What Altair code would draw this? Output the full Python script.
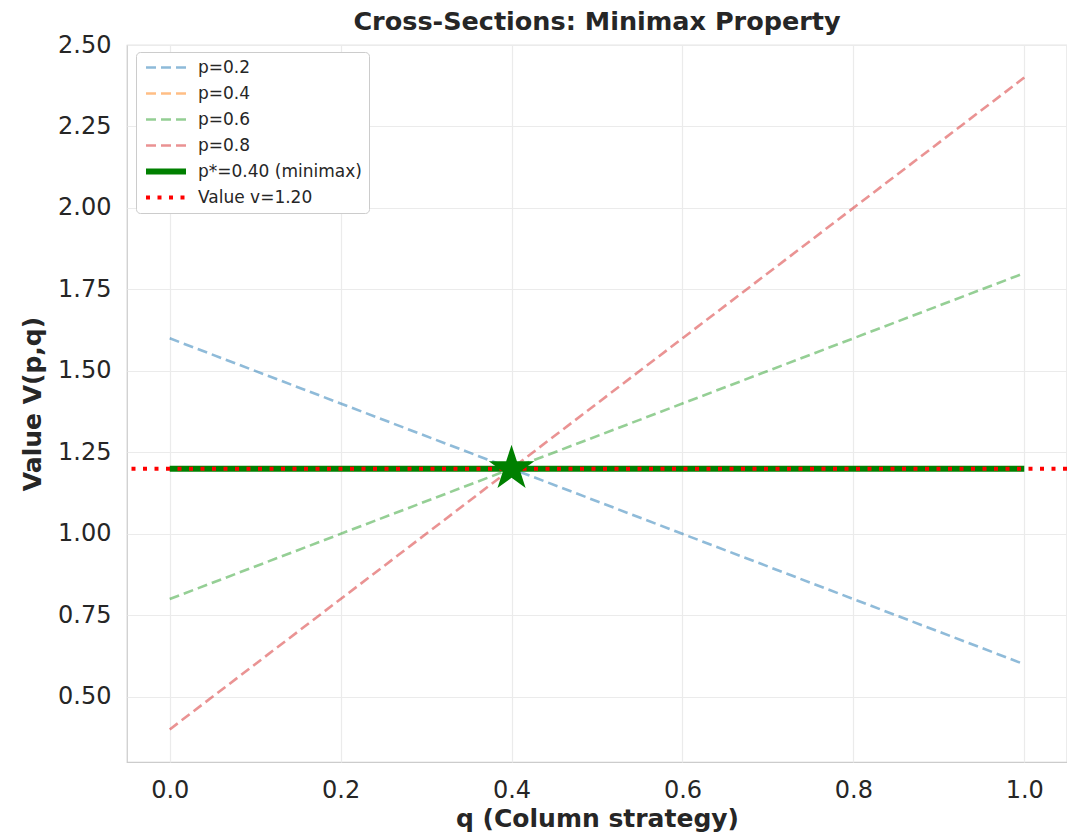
import altair as alt
import pandas as pd

# ---- data ----
q_ends = [0.0, 1.0]
p_labels = ["p=0.2", "p=0.4", "p=0.6", "p=0.8"]
v_at_q0 = [1.6, 1.2, 0.8, 0.4]
v_at_q1 = [0.6, 1.2, 1.8, 2.4]
minimax_label = "p*=0.40 (minimax)"
minimax_value = 1.2
value_label = "Value v=1.20"
game_value = 1.2
star_q = [0.4]
star_v = [1.2]
x_ticks = [0.0, 0.2, 0.4, 0.6, 0.8, 1.0]
y_ticks = [0.5, 0.75, 1.0, 1.25, 1.5, 1.75, 2.0, 2.25, 2.5]

# ---- tables ----
rows = []
for i, lab in enumerate(p_labels):
    rows.append({"series": lab, "q": q_ends[0], "v": v_at_q0[i]})
    rows.append({"series": lab, "q": q_ends[1], "v": v_at_q1[i]})
p_df = pd.DataFrame(rows)
mm_df = pd.DataFrame({"series": [minimax_label] * 2, "q": q_ends, "v": [minimax_value] * 2})
val_df = pd.DataFrame({"series": [value_label], "v": [game_value]})
star_df = pd.DataFrame({"q": star_q, "v": star_v})

series_domain = p_labels + [minimax_label, value_label]
colors = ["#1f77b4", "#ff7f0e", "#2ca02c", "#d62728", "#008000", "#ff0000"]
dashes = [[10, 5], [10, 5], [10, 5], [10, 5], [1, 0], [4, 7.5]]
widths = [2.6, 2.6, 2.6, 2.6, 6, 4]
opac = [0.5, 0.5, 0.5, 0.5, 1, 1]

# five-pointed star in the [-1, 1] box
STAR_PATH = ("M0,-1L-0.2245,-0.309L-0.9511,-0.309L-0.3633,0.118L-0.5878,0.809"
             "L0,0.382L0.5878,0.809L0.3633,0.118L0.9511,-0.309L0.2245,-0.309Z")

x_enc = alt.X("q:Q", scale=alt.Scale(domain=[-0.05, 1.05], nice=False, zero=False),
              axis=alt.Axis(values=x_ticks, format=".1f", title="q (Column strategy)"))
y_enc = alt.Y("v:Q", scale=alt.Scale(domain=[0.3, 2.5], nice=False, zero=False),
              axis=alt.Axis(values=y_ticks, format=".2f", title="Value V(p,q)"))


def style_enc():
    return dict(
        color=alt.Color("series:N", scale=alt.Scale(domain=series_domain, range=colors), title=None),
        strokeDash=alt.StrokeDash("series:N", scale=alt.Scale(type="ordinal", domain=series_domain, range=dashes), title=None),
        strokeWidth=alt.StrokeWidth("series:N", scale=alt.Scale(type="ordinal", domain=series_domain, range=widths), title=None),
        opacity=alt.Opacity("series:N", scale=alt.Scale(type="ordinal", domain=series_domain, range=opac), title=None),
    )


p_lines = alt.Chart(p_df).mark_line(strokeCap="butt").encode(
    x=x_enc, y=y_enc, detail="series:N", **style_enc()
)
mm_line = alt.Chart(mm_df).mark_line(strokeCap="butt").encode(
    x=x_enc, y=y_enc, **style_enc()
)
val_rule = alt.Chart(val_df).mark_rule(strokeCap="butt").encode(
    y=y_enc, **style_enc()
)
star = alt.Chart(star_df).mark_point(shape=STAR_PATH, filled=True, size=2300, color="#008000", opacity=1).encode(
    x=x_enc, y=y_enc
)

chart = alt.layer(p_lines, mm_line, val_rule, star).properties(
    width=940,
    height=717,
    autosize=alt.AutoSizeParams(type="none"),
    padding={"left": 119, "top": 37, "right": 0, "bottom": 74},
    title=alt.TitleParams("Cross-Sections: Minimax Property", fontSize=25.5, fontWeight="bold",
                          font="DejaVu Sans", color="#262626", offset=-2, anchor="middle"),
).configure_view(
    stroke="#cccccc", strokeWidth=1.25
).configure_axis(
    labelFont="DejaVu Sans", labelFontSize=24, labelColor="#262626",
    titleFont="DejaVu Sans", titleFontSize=25, titleFontWeight="bold", titleColor="#262626",
    grid=True, gridColor="#ebebeb", gridWidth=1.2,
    domain=False, ticks=False, tickSize=0, labelPadding=16,
).configure_axisX(
    titlePadding=4
).configure_axisY(
    titlePadding=12
).configure_legend(
    orient="none", legendX=9, legendY=7,
    fillColor="white", strokeColor="#cccccc", cornerRadius=4, padding=7,
    labelFont="DejaVu Sans", labelFontSize=17, labelColor="#262626", labelLimit=400,
    symbolType="stroke", symbolSize=1600, clipHeight=17, rowPadding=8, labelOffset=9,
)

chart.save("out.html", embed_options={"renderer": "svg", "actions": False})
